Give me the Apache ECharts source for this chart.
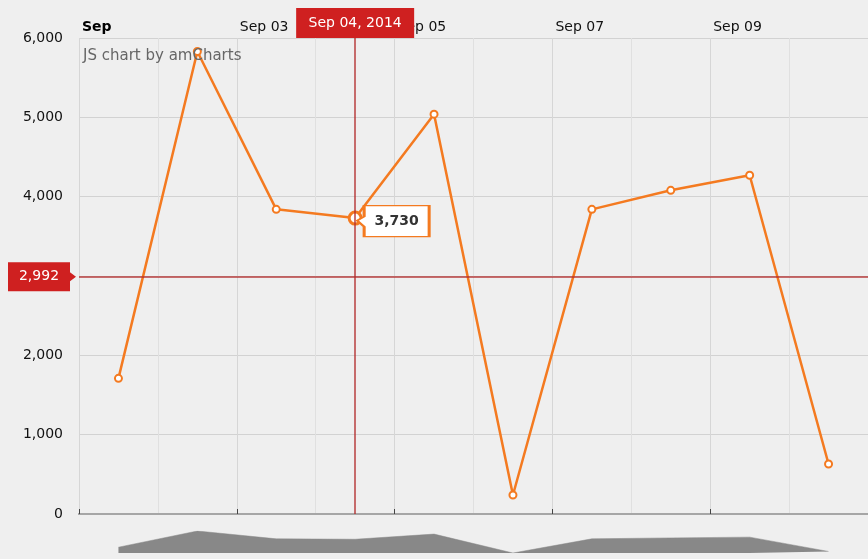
<!DOCTYPE html>
<html>
<head>
<meta charset="utf-8">
<script src="https://cdn.jsdelivr.net/npm/echarts@6/dist/echarts.min.js"></script>
<style>
html,body{margin:0;padding:0;background:#efefef;}
#chart{width:868px;height:559px;}
</style>
</head>
<body>
<div id="chart"></div>
<script>
// ---- data ----
const dates = ['2014-09-01','2014-09-02','2014-09-03','2014-09-04','2014-09-05','2014-09-06','2014-09-07','2014-09-08','2014-09-09','2014-09-10'];
const values = [1710, 5830, 3840, 3730, 5040, 240, 3840, 4080, 4270, 630];
const xTickLabels = ['Sep', 'Sep 03', 'Sep 05', 'Sep 07', 'Sep 09', 'Sep 11'];
const axisStart = '2014-09-01';
const axisEnd = '2014-09-11';
const cursorDate = '2014-09-04';
const cursorDateLabel = 'Sep 04, 2014';
const cursorValue = 2992;
const tooltipValue = 3730;
const titleText = 'JS chart by amCharts';

// ---- helpers ----
const DAY = 86400000;
const HALF = DAY / 2;
const t0 = Date.parse(axisStart);
const t1 = Date.parse(axisEnd);
const fmt = v => Number(v).toLocaleString('en-US');
const seriesData = dates.map((d, i) => {
  const item = { value: [Date.parse(d) + HALF, values[i]] };
  if (d === cursorDate) {
    item.symbolSize = 12;
    item.itemStyle = { borderWidth: 3 };
  }
  return item;
});
const cursorTs = Date.parse(cursorDate) + HALF;

const FONT = 'DejaVu Sans';
const ORANGE = '#f47a20';
const RED = '#cf2020';

const chart = echarts.init(document.getElementById('chart'), null, { renderer: 'canvas' });
chart.setOption({
  animation: false,
  backgroundColor: '#efefef',
  textStyle: { fontFamily: FONT },
  title: {
    text: titleText,
    left: 83, top: 49, padding: 0,
    textStyle: { fontFamily: FONT, fontSize: 15, fontWeight: 'normal', color: '#666' }
  },
  grid: [
    { left: 79, top: 38, width: 790, height: 476 },
    { left: 79, top: 531, width: 790, height: 22 }
  ],
  xAxis: [
    {
      type: 'value', gridIndex: 0, position: 'top',
      min: t0, max: t1, interval: 2 * DAY,
      axisLine: { show: true, lineStyle: { color: '#444', width: 1.5 } },
      axisTick: { show: true, length: 5, lineStyle: { color: '#444', width: 1 } },
      axisLabel: {
        showMaxLabel: false,
        align: 'left', margin: 4, padding: [0, 0, 0, 3],
        fontFamily: FONT, fontSize: 14, color: '#111',
        formatter: v => {
          const i = Math.round((v - t0) / (2 * DAY));
          return i === 0 ? '{b|' + xTickLabels[i] + '}' : xTickLabels[i];
        },
        rich: { b: { fontFamily: FONT, fontSize: 14, fontWeight: 'bold', color: '#000' } }
      },
      splitLine: { show: true, lineStyle: { color: '#d6d6d6', width: 1 } },
      minorTick: { show: false, splitNumber: 2 },
      minorSplitLine: { show: true, lineStyle: { color: '#e0e0e0', width: 1 } }
    },
    {
      type: 'value', gridIndex: 0, position: 'bottom',
      min: t0, max: t1,
      axisLine: { show: true, onZero: false, lineStyle: { color: '#a6a6a6', width: 2 } },
      axisTick: { show: false }, axisLabel: { show: false }, splitLine: { show: false }
    },
    {
      type: 'value', gridIndex: 1, min: t0, max: t1, show: false
    }
  ],
  yAxis: [
    {
      type: 'value', gridIndex: 0, min: 0, max: 6000, interval: 1000,
      axisLine: { show: false }, axisTick: { show: false },
      axisLabel: { margin: 16, fontFamily: FONT, fontSize: 14, color: '#111', formatter: v => fmt(v) },
      splitLine: { show: true, lineStyle: { color: '#d2d2d2', width: 1 } }
    },
    {
      type: 'value', gridIndex: 1, min: 'dataMin', max: 'dataMax', show: false, scale: true
    }
  ],
  series: [
    {
      type: 'line', xAxisIndex: 0, yAxisIndex: 0, z: 3,
      data: seriesData,
      clip: false,
      symbol: 'circle', symbolSize: 7,
      itemStyle: { color: '#fff', borderColor: ORANGE, borderWidth: 2 },
      lineStyle: { color: ORANGE, width: 2.5 },
      emphasis: { disabled: true },
      markLine: {
        silent: true, symbol: ['none', 'none'],
        label: { show: false },
        lineStyle: { color: '#b32b2b', width: 1.5, type: 'solid', opacity: 0.9 },
        data: [{ xAxis: cursorTs }, { yAxis: cursorValue }]
      },
      markPoint: {
        silent: true,
        data: [
          {
            coord: [cursorTs, 6000],
            symbol: 'rect', symbolSize: [118, 30], symbolOffset: [0, -15],
            itemStyle: { color: RED },
            label: { show: true, position: 'inside', formatter: cursorDateLabel, color: '#fff', fontFamily: FONT, fontSize: 14 }
          },
          {
            coord: [t0, cursorValue],
            symbol: 'path://M0,0L62,0L62,10L68,14.5L62,19L62,29L0,29Z',
            symbolSize: [68, 29], symbolOffset: [-37, 0],
            itemStyle: { color: RED },
            label: { show: true, position: 'inside', offset: [-3, 0], formatter: fmt(cursorValue), color: '#fff', fontFamily: FONT, fontSize: 14 }
          },
          {
            coord: [cursorTs, tooltipValue],
            symbol: 'path://M7,0L72,0L72,31L7,31L7,21L0,15L7,11Z',
            symbolSize: [72, 31], symbolOffset: [38, 3],
            itemStyle: { color: '#fff', borderColor: ORANGE, borderWidth: 2 },
            label: { show: true, position: 'inside', offset: [3.5, 0], formatter: fmt(tooltipValue), color: '#333', fontFamily: FONT, fontSize: 14, fontWeight: 'bold' }
          }
        ]
      }
    },
    {
      type: 'line', xAxisIndex: 2, yAxisIndex: 1, z: 2,
      data: dates.map((d, i) => [Date.parse(d) + HALF, values[i]]),
      symbol: 'none', silent: true,
      lineStyle: { color: '#888', width: 0.5 },
      areaStyle: { color: '#888', opacity: 1, origin: 'start' }
    }
  ]
});
</script>
</body>
</html>
